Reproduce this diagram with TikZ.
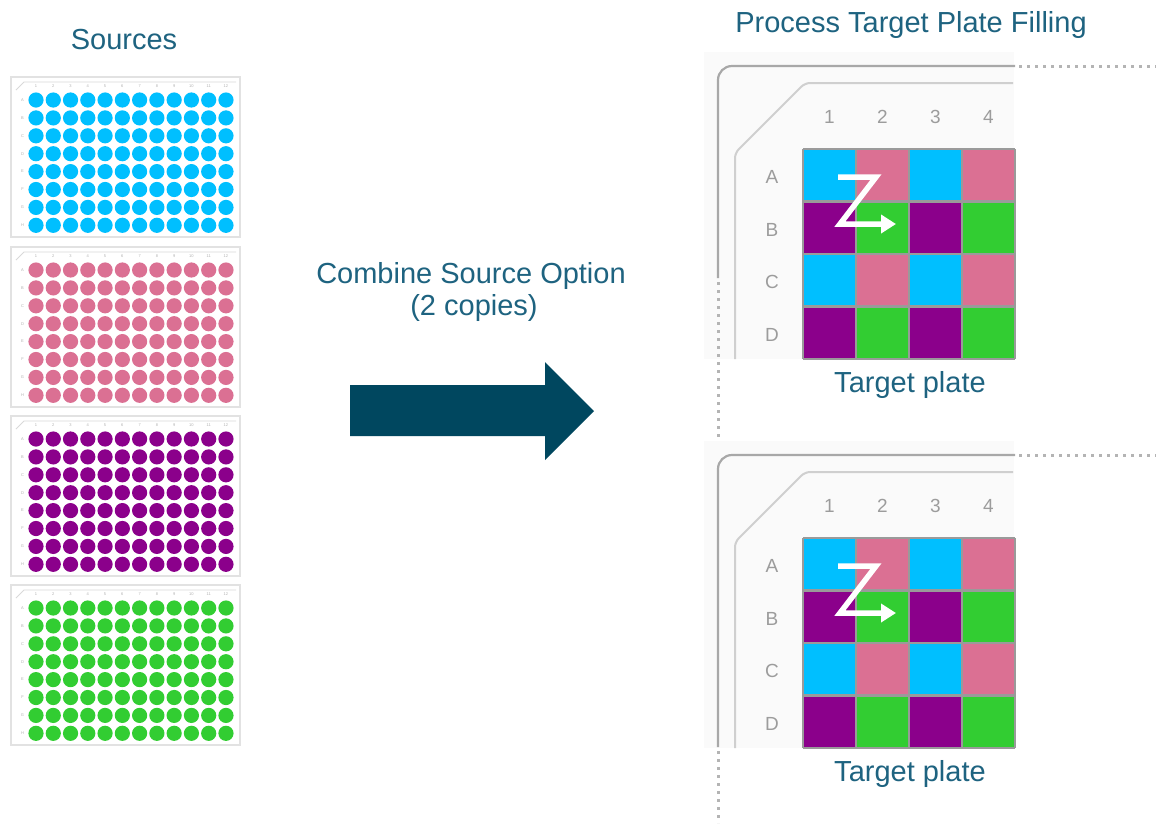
\documentclass[tikz,border=0pt]{standalone}
\usepackage{fontspec}
\setmainfont{Liberation Sans}
\usetikzlibrary{arrows.meta}

\definecolor{ink}{HTML}{1E6380}
\definecolor{bigarrow}{HTML}{00475F}
\definecolor{wcyan}{HTML}{00BFFF}
\definecolor{wpink}{HTML}{DB7093}
\definecolor{wpurple}{HTML}{8B008B}
\definecolor{wgreen}{HTML}{32CD32}
\definecolor{platerim}{HTML}{E2E2E2}
\definecolor{panelbg}{HTML}{FAFAFA}
\definecolor{outerrim}{HTML}{A8A8A8}
\definecolor{innerrim}{HTML}{CFCFCF}
\definecolor{gridgray}{HTML}{9A9A9A}
\definecolor{labelgray}{HTML}{9C9C9C}
\definecolor{dotgray}{HTML}{B4B4B4}

\tikzset{
  heading/.style={text=ink, font=\fontsize{29}{34}\selectfont, inner sep=0pt, anchor=base},
  tinylabel/.style={text=black!30, font=\fontsize{4}{5}\selectfont, inner sep=0pt},
  platebox/.style={fill=white, draw=platerim, line width=1.2pt},
  axislabel/.style={text=labelgray, font=\fontsize{19}{20}\selectfont, inner sep=0pt},
  outerline/.style={draw=outerrim, line width=2.2pt},
  innerline/.style={draw=innerrim, line width=2pt},
  dotline/.style={draw=dotgray, line width=3pt, dash pattern=on 3pt off 5pt},
  gridline/.style={draw=gridgray, line width=2.2pt},
  zpath/.style={draw=white, line width=5.5pt, line join=miter, -{Triangle[length=15pt,width=18pt]}},
}

% 96-well source plate: #1 name, #2 top edge, #3 well colour
\newcommand\sourceplate[3]{%
  \begin{scope}[shift={(0,#2)}]
    \draw[platebox] (11,0) rectangle (240,160);
    \draw[black!15, line width=0.8pt] (16,13) -- (24,5) -- (236,5);
    \foreach \c in {1,...,12}
      \node[tinylabel] (#1-col\c) at ({36+17.27*(\c-1)},9.5) {\c};
    \foreach \r [count=\i] in {A,B,C,D,E,F,G,H}
      \node[tinylabel] (#1-row\r) at (22.5,{23+17.9*(\i-1)}) {\r};
    \foreach \c in {0,...,11}
      \foreach \r in {0,...,7}
        \fill[#3] ({36+17.27*\c},{23+17.9*\r}) circle (7.6);
  \end{scope}}

% 4x4 target plate view: #1 name, #2 vertical offset, #3 end of solid rim, #4 end of dotted rim
\newcommand\targetplate[4]{%
  \begin{scope}[shift={(0,#2)}]
    \fill[panelbg] (704,52) rectangle (1014,359);
    \draw[innerline, rounded corners=5] (735,359) -- (735,153) -- (805,83) -- (1013,83);
    \draw[outerline, rounded corners=14] (718,#3) -- (718,66) -- (1015,66);
    \draw[dotline] (1019,66) -- (1156,66);
    \draw[dotline] (718,#3+4) -- (718,#4);
    \foreach \r in {0,...,3}
      \foreach \c in {0,...,3} {
        \pgfmathtruncatemacro\k{mod(\r,2)*2+mod(\c,2)}
        \ifcase\k \def\cc{wcyan}\or\def\cc{wpink}\or\def\cc{wpurple}\or\def\cc{wgreen}\fi
        \fill[\cc] ({803+53*\c},{149+52.5*\r}) rectangle ({803+53*(\c+1)},{149+52.5*(\r+1)});
      }
    \foreach \c in {0,...,4}
      \draw[gridline] ({803+53*\c},149) -- ({803+53*\c},359);
    \foreach \r in {0,...,4}
      \draw[gridline] (803,{149+52.5*\r}) -- (1015,{149+52.5*\r});
    \foreach \n [count=\i from 0] in {1,2,3,4}
      \node[axislabel] (#1-col\n) at ({829.5+53*\i},117) {\n};
    \foreach \l [count=\i from 0] in {A,B,C,D}
      \node[axislabel] (#1-row\l) at (772,{177+52.5*\i}) {\l};
    \coordinate (#1-z1) at (838,177);
    \coordinate (#1-z2) at (876,177);
    \coordinate (#1-z3) at (840,224);
    \coordinate (#1-z4) at (896,224);
    \draw[zpath] (#1-z1) -- (#1-z2) -- (#1-z3) -- (#1-z4);
    \node[heading] (#1-label) at (910,392) {Target plate};
  \end{scope}}

\begin{document}
\begin{tikzpicture}[x=1pt,y=-1pt]
  \useasboundingbox (0,0) rectangle (1156,823);
  \fill[white] (0,0) rectangle (1156,823);

  % headings
  \node[heading] (sources) at (124,49) {Sources};
  \node[heading] (process) at (911,32) {Process Target Plate Filling};
  \node[heading] (combine) at (471,283) {Combine Source Option};
  \node[heading] (copies) at (474,315) {(2 copies)};

  % source plates
  \sourceplate{cyanplate}{77}{wcyan}
  \sourceplate{pinkplate}{247}{wpink}
  \sourceplate{purpleplate}{416}{wpurple}
  \sourceplate{greenplate}{585}{wgreen}

  % block arrow
  \fill[bigarrow] (350,385) -- (545,385) -- (545,362) -- (594,411)
    -- (545,460) -- (545,436) -- (350,436) -- cycle;

  % target plates
  \targetplate{topplate}{0}{278}{440}
  \targetplate{bottomplate}{389}{358}{434}
\end{tikzpicture}
\end{document}
